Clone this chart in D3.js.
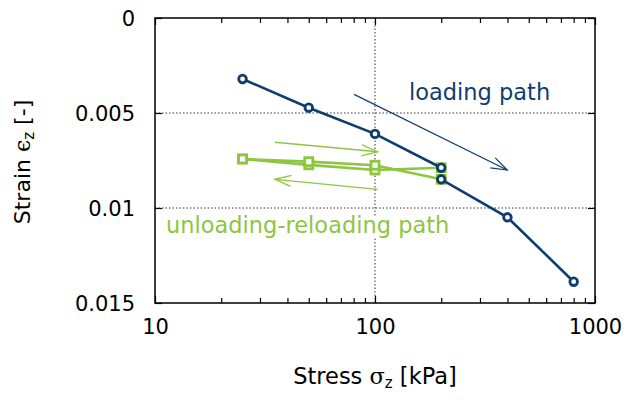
<!DOCTYPE html>
<html><head><meta charset="utf-8">
<script src="https://cdn.jsdelivr.net/npm/d3@7"></script>
<style>body{margin:0;background:#fff;} text{font-family:"DejaVu Sans",sans-serif;}</style>
</head><body><svg id="c" width="633" height="400"></svg>
<script>
// Data
const loadStress = [25, 50, 100, 200];
const loadStrain = [0.00321, 0.00472, 0.0061, 0.00788];
const unloadStress = [200, 100, 50, 25];
const unloadStrain = [0.00788, 0.0080, 0.00773, 0.00742];
const reloadStress = [25, 50, 100, 200];
const reloadStrain = [0.00742, 0.00756, 0.00775, 0.00849];
const load2Stress = [200, 400, 800];
const load2Strain = [0.00849, 0.01049, 0.01388];
const xTicks = [10, 100, 1000];
const yTicks = [0, 0.005, 0.01, 0.015];
const yTickLabels = ["0", "0.005", "0.01", "0.015"];
// annotation arrows in data coordinates [x1,y1,x2,y2]
const blueArrow = [80.3, 0.00402, 399, 0.0080];
const greenArrows = [[35.1, 0.00654, 102.9, 0.00704], [102.9, 0.00902, 35.1, 0.00849]];

const blue = "#0f3d6e", green = "#8dc63f";
const svg = d3.select("#c");
const L = 155, R = 595, T = 18, B = 303;
const x = d3.scaleLog().domain([10, 1000]).range([L, R]);
const y = d3.scaleLinear().domain([0, 0.015]).range([T, B]);

// grid
const grid = svg.append("g").attr("stroke", "#000").attr("stroke-width", 0.8).attr("stroke-dasharray", "1.5,2");
grid.append("line").attr("x1", x(100)).attr("x2", x(100)).attr("y1", T).attr("y2", B);
[0.005, 0.01].forEach(v => grid.append("line").attr("x1", L).attr("x2", R).attr("y1", y(v)).attr("y2", y(v)));

// axes with inward ticks
const minor = [];
[10, 100].forEach(d => { for (let k = 2; k <= 9; k++) minor.push(d * k); });
const xb = d3.axisBottom(x).tickValues(xTicks).tickSize(-7).tickFormat(d3.format("d")).tickPadding(16);
const gx = svg.append("g").attr("transform", `translate(0,${B})`).call(xb);
const gxm = svg.append("g").attr("transform", `translate(0,${B})`).call(d3.axisBottom(x).tickValues(minor).tickSize(-5).tickFormat(""));
const gxt = svg.append("g").attr("transform", `translate(0,${T})`).call(d3.axisTop(x).tickValues(xTicks).tickSize(-7).tickFormat(""));
const gxtm = svg.append("g").attr("transform", `translate(0,${T})`).call(d3.axisTop(x).tickValues(minor).tickSize(-5).tickFormat(""));
const gy = svg.append("g").attr("transform", `translate(${L},0)`).call(d3.axisLeft(y).tickValues(yTicks).tickSize(-7).tickFormat((d, i) => yTickLabels[i]).tickPadding(20));
const gyr = svg.append("g").attr("transform", `translate(${R},0)`).call(d3.axisRight(y).tickValues(yTicks).tickSize(-7).tickFormat(""));
[gx, gxm, gxt, gxtm, gy, gyr].forEach(g => {
  g.select(".domain").remove();
  g.selectAll(".tick line").attr("stroke", "#000").attr("stroke-width", 1.2);
  g.selectAll(".tick text").attr("font-size", 21).attr("fill", "#000").attr("font-family", "DejaVu Sans");
});
gy.selectAll(".tick text").attr("dy", "0.35em");
svg.append("rect").attr("x", L).attr("y", T).attr("width", R - L).attr("height", B - T)
  .attr("fill", "none").attr("stroke", "#000").attr("stroke-width", 1.5);

// labels
const bgRect = svg.append("rect").attr("fill", "#fff");
const gl = svg.append("text").attr("x", 166).attr("y", 233).attr("font-size", 22.5).attr("fill", green)
  .text("unloading-reloading path");
const bb = gl.node().getBBox();
bgRect.attr("x", bb.x).attr("y", bb.y + 4).attr("width", bb.width).attr("height", bb.height - 4);
svg.append("text").attr("x", 409).attr("y", 100).attr("font-size", 22.5).attr("fill", blue).text("loading path");

// arrows
function arrow(a, col, w) {
  const x1 = x(a[0]), y1 = y(a[1]), x2 = x(a[2]), y2 = y(a[3]);
  const ang = Math.atan2(y2 - y1, x2 - x1), len = 17, sp = 0.33;
  svg.append("line").attr("x1", x1).attr("y1", y1).attr("x2", x2).attr("y2", y2).attr("stroke", col).attr("stroke-width", w);
  svg.append("path").attr("d", `M${x2 - len * Math.cos(ang - sp)},${y2 - len * Math.sin(ang - sp)}L${x2},${y2}L${x2 - len * Math.cos(ang + sp)},${y2 - len * Math.sin(ang + sp)}`)
    .attr("fill", "none").attr("stroke", col).attr("stroke-width", w);
}
arrow(blueArrow, blue, 1.2);
greenArrows.forEach(a => arrow(a, green, 1.3));

// series
const line = d3.line().x(d => x(d[0])).y(d => y(d[1]));
function series(xs, ys, col, shape) {
  const pts = xs.map((v, i) => [v, ys[i]]);
  svg.append("path").attr("d", line(pts)).attr("fill", "none").attr("stroke", col).attr("stroke-width", 2.6);
  pts.forEach(p => {
    if (shape === "c") svg.append("circle").attr("cx", x(p[0])).attr("cy", y(p[1])).attr("r", 3.8)
      .attr("fill", "#fff").attr("stroke", col).attr("stroke-width", 2.8);
    else svg.append("rect").attr("x", x(p[0]) - 4).attr("y", y(p[1]) - 4).attr("width", 8).attr("height", 8)
      .attr("fill", "#fff").attr("stroke", col).attr("stroke-width", 2.8);
  });
}
series(unloadStress, unloadStrain, green, "s");
series(reloadStress, reloadStrain, green, "s");
series(loadStress, loadStrain, blue, "c");
series(load2Stress, load2Strain, blue, "c");

// axis titles
const xt = svg.append("text").attr("x", 375).attr("y", 384).attr("text-anchor", "middle").attr("font-size", 22.5).attr("fill", "#000");
xt.append("tspan").text("Stress ");
xt.append("tspan").attr("font-family", "DejaVu Serif").text("σ");
xt.append("tspan").attr("font-size", 15).attr("dy", 4).text("z");
xt.append("tspan").attr("dy", -4).text(" [kPa]");
const yt = svg.append("text").attr("transform", "translate(30,162) rotate(-90)").attr("text-anchor", "middle").attr("font-size", 22).attr("fill", "#000");
yt.append("tspan").text("Strain ");
yt.append("tspan").attr("font-family", "DejaVu Serif").text("ϵ");
yt.append("tspan").attr("font-size", 15).attr("dy", 4).text("z");
yt.append("tspan").attr("dy", -4).text(" [-]");
</script></body></html>
